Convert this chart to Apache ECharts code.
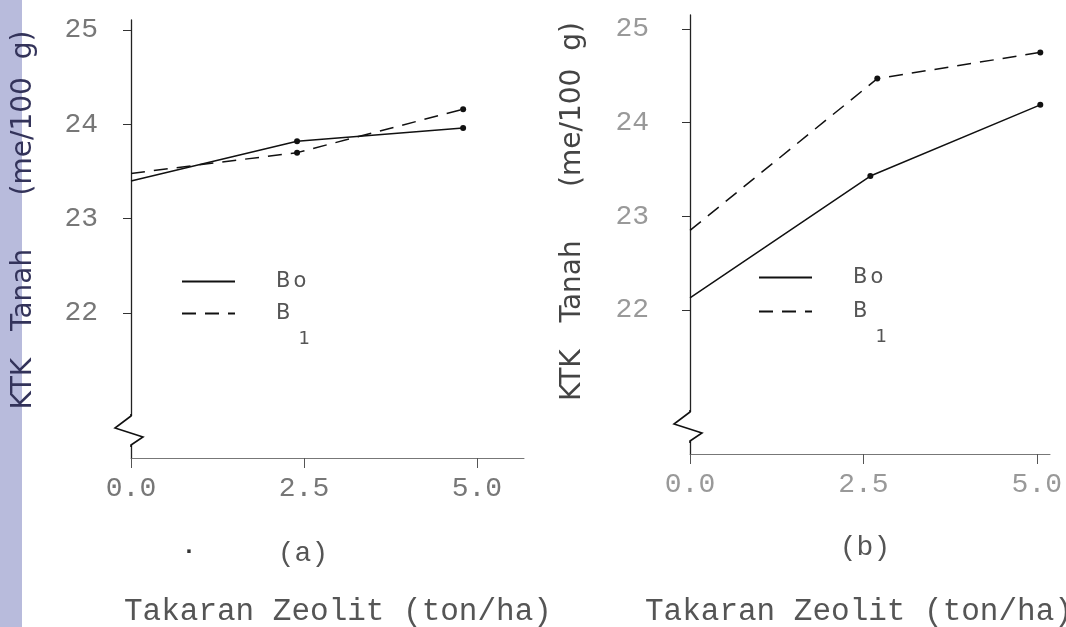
<!DOCTYPE html>
<html>
<head>
<meta charset="utf-8">
<script src="https://cdn.jsdelivr.net/npm/echarts@6/dist/echarts.min.js"></script>
<style>
  html, body { margin: 0; padding: 0; background: #fff; }
  #chart { width: 1066px; height: 627px; }
</style>
</head>
<body>
<div id="chart"></div>
<script>
// (a) takaran zeolit (ton/ha) vs KTK tanah
var xA = [0, 2.4, 4.8];
var boA = [23.40, 23.82, 23.96];
var b1A = [23.48, 23.70, 24.16];

// (b)
var xBoB = [0, 2.6, 5.05];
var xB1B = [0, 2.7, 5.05];
var boB = [22.13, 23.43, 24.19];
var b1B = [22.85, 24.47, 24.75];

var yTicks = [22, 23, 24, 25];
var xTicks = [0, 2.5, 5];

var yTitle = 'KTK   Tanah      (me/100  g)';
var xTitle = 'Takaran Zeolit (ton/ha)';
var mono = 'Liberation Mono';
var sans = 'DejaVu Sans';

var chart = echarts.init(document.getElementById('chart'));

function pairs(xs, ys) {
    return xs.map(function (x, i) {
        // no dot at the origin point
        return { value: [x, ys[i]], symbol: i === 0 ? 'none' : 'circle' };
    });
}

function lineSeries(name, idx, xs, ys, dashed) {
    return {
        name: name,
        type: 'line',
        xAxisIndex: idx,
        yAxisIndex: idx,
        data: pairs(xs, ys),
        symbolSize: 6,
        itemStyle: { color: '#111' },
        lineStyle: { color: '#111', width: 1.5, type: dashed ? [14, 9] : 'solid' },
        animation: false
    };
}

function xAxis(idx, max, color) {
    return {
        type: 'value', gridIndex: idx, min: 0, max: max,
        splitLine: { show: false },
        axisLine: { lineStyle: { color: '#777', width: 1 } },
        axisTick: { customValues: xTicks, length: 10, lineStyle: { color: '#555' } },
        axisLabel: {
            customValues: xTicks, margin: 17,
            fontFamily: mono, fontSize: 28, color: color,
            formatter: function (v) { return v.toFixed(1); }
        }
    };
}

function yAxis(idx, max, color, margin, gap, shift, nameColor) {
    return {
        type: 'value', gridIndex: idx, min: 20.463, max: max,
        splitLine: { show: false },
        axisLine: { lineStyle: { color: '#222', width: 1.3 } },
        axisTick: { customValues: yTicks, length: 8, lineStyle: { color: '#333' } },
        axisLabel: { customValues: yTicks, margin: margin, fontFamily: mono, fontSize: 28, color: color },
        name: yTitle, nameLocation: 'middle', nameRotate: 90, nameGap: gap,
        nameTextStyle: { fontFamily: sans, fontSize: 28, color: nameColor, padding: [0, 0, 0, shift] }
    };
}

function legendItem(name, left, top, rich) {
    return {
        data: [name], left: left, top: top, padding: 0,
        selectedMode: false, itemWidth: 53, itemHeight: 10,
        itemStyle: { opacity: 0 },
        formatter: name === 'Bo' ? '{b|B}{o|o}' : '{b|B}{s|1}',
        textStyle: { color: '#555', fontFamily: sans, fontSize: 21, padding: [0, 0, 0, 36], rich: rich }
    };
}

var richBo = {
    b: { fontFamily: sans, fontSize: 21, color: '#555' },
    o: { fontFamily: sans, fontSize: 21, color: '#555', padding: [0, 0, 0, 3] }
};
var richB1 = {
    b: { fontFamily: sans, fontSize: 21, color: '#555', padding: [26, 0, 26, 0] },
    s: { fontFamily: sans, fontSize: 18, color: '#555', padding: [52, 0, 0, 8] }
};

var option = {
    backgroundColor: '#fff',
    animation: false,
    grid: [
        { left: 131, top: 20, width: 393, height: 438 },
        { left: 690, top: 15, width: 360, height: 439 }
    ],
    xAxis: [xAxis(0, 5.68, '#777'), xAxis(1, 5.19, '#999')],
    yAxis: [
        yAxis(0, 25.106, '#777', 33, 93, 38, '#33335a'),
        yAxis(1, 25.149, '#999', 41, 103, 46, '#444')
    ],
    legend: [
        legendItem('Bo', 181, 271, richBo),
        legendItem('B1', 181, 303, richB1),
        legendItem('Bo', 758, 267, richBo),
        legendItem('B1', 758, 301, richB1)
    ],
    series: [
        lineSeries('Bo', 0, xA, boA, false),
        lineSeries('B1', 0, xA, b1A, true),
        lineSeries('Bo', 1, xBoB, boB, false),
        lineSeries('B1', 1, xB1B, b1B, true)
    ]
};

chart.setOption(option);

// decorations: side strip, axis-break zigzags, captions
function zigzag(idx) {
    var c = chart.convertToPixel({ xAxisIndex: idx, yAxisIndex: idx }, [0, 20.463]);
    var x = c[0], y = c[1];
    return [
        { type: 'rect', shape: { x: x - 3, y: y - 42, width: 6, height: 29 }, style: { fill: '#fff' }, z: 10 },
        {
            type: 'polyline', z: 11,
            shape: { points: [[x, y - 44], [x, y - 42], [x - 16, y - 30], [x + 12, y - 21], [x, y - 13], [x, y - 11]] },
            style: { stroke: '#111', lineWidth: 1.6, fill: null }
        }
    ];
}

var captionStyle = { fontFamily: mono, fill: '#555' };
var graphics = [
    { type: 'rect', z: -10, shape: { x: 0, y: 0, width: 22, height: 627 }, style: { fill: '#b8bbdc' } },
    { type: 'text', x: 189, y: 552, style: { text: '·', font: 'bold 24px ' + mono, fill: '#333', align: 'center', verticalAlign: 'middle' } },
    { type: 'text', x: 303, y: 554, style: Object.assign({ text: '(a)', fontSize: 28, align: 'center', verticalAlign: 'middle' }, captionStyle) },
    { type: 'text', x: 865, y: 548, style: Object.assign({ text: '(b)', fontSize: 28, align: 'center', verticalAlign: 'middle' }, captionStyle) },
    { type: 'text', x: 124, y: 612, style: Object.assign({ text: xTitle, fontSize: 31, align: 'left', verticalAlign: 'middle' }, captionStyle) },
    { type: 'text', x: 645, y: 612, style: Object.assign({ text: xTitle, fontSize: 31, align: 'left', verticalAlign: 'middle' }, captionStyle) }
].concat(zigzag(0), zigzag(1));

chart.setOption({ graphic: graphics });
</script>
</body>
</html>
